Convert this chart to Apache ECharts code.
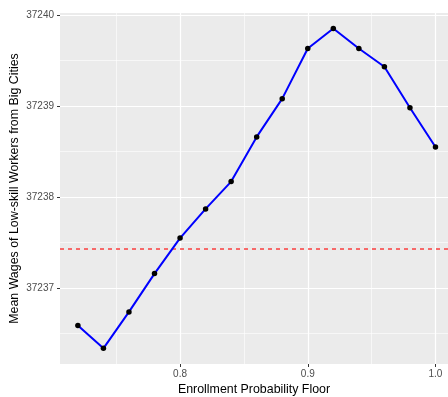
<!DOCTYPE html>
<html>
<head>
<meta charset="utf-8">
<script src="https://cdn.jsdelivr.net/npm/echarts@6/dist/echarts.min.js"></script>
<style>html,body{margin:0;padding:0;background:#fff;}#c{width:448px;height:397px;}</style>
</head>
<body>
<div id="c"></div>
<script>
const floors = [0.72, 0.74, 0.76, 0.78, 0.80, 0.82, 0.84, 0.86, 0.88, 0.90, 0.92, 0.94, 0.96, 0.98, 1.00];
const wages = [37236.59, 37236.34, 37236.74, 37237.16, 37237.55, 37237.87, 37238.17, 37238.66, 37239.08, 37239.63, 37239.85, 37239.63, 37239.43, 37238.98, 37238.55];
const baseline = 37237.43;
const xMajor = [0.8, 0.9, 1.0];
const xMinor = [0.75, 0.85, 0.95];
const yMajor = [37237, 37238, 37239, 37240];
const yMinor = [37236.5, 37237.5, 37238.5, 37239.5];
const xLabels = ['0.8', '0.9', '1.0'];
const yLabels = ['37237', '37238', '37239', '37240'];
const xRange = [0.706, 1.0098];
const yRange = [37236.168, 37240.02];

const chart = echarts.init(document.getElementById('c'), null, {renderer: 'canvas'});
const gridLine = (w) => ({color: '#ffffff', width: w, type: 'solid'});
chart.setOption({
  animation: false,
  grid: {left: 60, top: 13, width: 388, height: 351, show: true, backgroundColor: '#ebebeb', borderWidth: 0,
    outerBoundsMode: 'none', containLabel: false},
  xAxis: {
    type: 'value', min: xRange[0], max: xRange[1],
    name: 'Enrollment Probability Floor', nameLocation: 'middle', nameGap: 20, nameMoveOverlap: false,
    nameTextStyle: {color: '#000', fontSize: 12.4, fontFamily: 'Liberation Sans'},
    axisLine: {show: false},
    splitLine: {show: false},
    axisTick: {show: true, length: 3, lineStyle: {color: '#333'}, customValues: xMajor},
    axisLabel: {color: '#4d4d4d', fontSize: 10, fontFamily: 'Liberation Sans', margin: 5,
      customValues: xMajor, formatter: (v) => xLabels[xMajor.findIndex(t => Math.abs(t - v) < 1e-9)] || ''}
  },
  yAxis: {
    type: 'value', min: yRange[0], max: yRange[1],
    name: 'Mean Wages of Low-skill Workers from Big Cities', nameLocation: 'middle', nameGap: 39, nameMoveOverlap: false,
    nameTextStyle: {color: '#000', fontSize: 12.4, fontFamily: 'Liberation Sans'},
    axisLine: {show: false},
    splitLine: {show: false},
    axisTick: {show: true, length: 3, lineStyle: {color: '#333'}, customValues: yMajor},
    axisLabel: {color: '#4d4d4d', fontSize: 10, fontFamily: 'Liberation Sans', margin: 6,
      customValues: yMajor, formatter: (v) => yLabels[yMajor.findIndex(t => Math.abs(t - v) < 1e-6)] || ''}
  },
  series: [
    {
      type: 'line', data: [], silent: true, z: 1,
      markLine: {
        silent: true, symbol: 'none', label: {show: false}, animation: false, z: 1,
        data: [
          ...xMinor.map(v => ({xAxis: v, lineStyle: gridLine(0.6)})),
          ...yMinor.map(v => ({yAxis: v, lineStyle: gridLine(0.6)})),
          ...xMajor.map(v => ({xAxis: v, lineStyle: gridLine(1.2)})),
          ...yMajor.map(v => ({yAxis: v, lineStyle: gridLine(1.2)}))
        ]
      }
    },
    {
      name: 'baseline', type: 'line', z: 5, silent: true,
      data: [[xRange[0], baseline], [xRange[1], baseline]],
      symbol: 'none', showSymbol: false,
      color: 'red',
      lineStyle: {color: 'red', width: 1.1, type: [4, 4]},
      emphasis: {disabled: true}
    },
    {
      type: 'line', z: 10,
      data: floors.map((f, i) => [f, wages[i]]),
      lineStyle: {color: '#0000ff', width: 2},
      symbol: 'circle', symbolSize: 5.5,
      itemStyle: {color: '#000'},
      showSymbol: true
    }
  ]
});
</script>
</body>
</html>
